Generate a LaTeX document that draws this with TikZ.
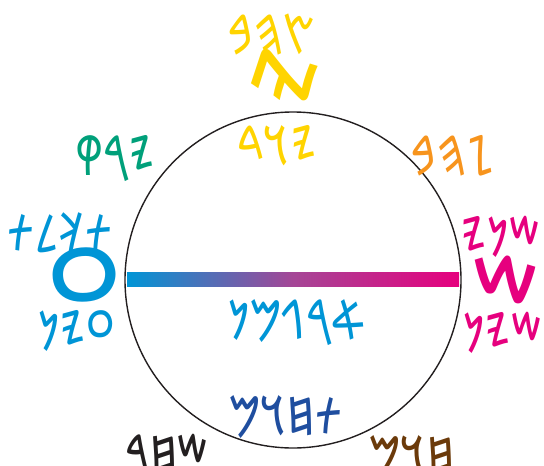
\documentclass[tikz,border=0pt]{standalone}
\usepackage{fontspec}
\TeXXeTstate=1
\IfFontExistsTF{Noto Sans Phoenician}{\def\phxname{Noto Sans Phoenician}}{%
  \IfFontExistsTF{FreeSerif}{\def\phxname{FreeSerif}}{\def\phxname{DejaVu Sans}}}
\newfontfamily\phx[FakeStretch=0.76]{\phxname}
\newfontfamily\phxbig{\phxname}
\definecolor{cyel}{RGB}{255,212,0}
\definecolor{cgrn}{RGB}{0,160,122}
\definecolor{corg}{RGB}{247,148,29}
\definecolor{cblu}{RGB}{0,149,214}
\definecolor{cpnk}{RGB}{230,0,126}
\definecolor{cdbl}{RGB}{31,78,159}
\definecolor{cbrn}{RGB}{107,58,10}
\definecolor{cblk}{RGB}{35,31,32}
\begin{document}
\begin{tikzpicture}[x=1pt,y=-1pt,
  lbl/.style={font=\phx\fontsize{55}{55}\selectfont,inner sep=0pt,anchor=base},
  big/.style={font=\phxbig\fontsize{#1}{#1}\selectfont,inner sep=0pt}]
\useasboundingbox (0,0) rectangle (544,466);
\shade[left color=cblu,right color=cpnk,middle color={rgb,255:red,165;green,70;blue,150}] (127,272) rectangle (459,286);
\node[draw=cblk,line width=1.4pt,circle,minimum size=336pt,inner sep=0pt] (c) at (293,280) {};
\node[lbl,text=cyel] (yt) at (272,54) {\beginR 𐤑𐤄𐤁\endR};
\node[big=100,text=cyel,rotate=60] (yb) at (289,78) {𐤉};
\node[lbl,text=cyel] (yi) at (277,165) {\beginR 𐤉𐤅𐤃\endR};
\node[lbl,text=cgrn] (gr) at (115,175) {\beginR 𐤉𐤓𐤒\endR};
\node[lbl,text=corg] (or) at (453,175) {\beginR 𐤆𐤄𐤁\endR};
\node[lbl,text=cblu] (bt) at (60,252) {\beginR 𐤕𐤊𐤋𐤕\endR};
\node[big=110,text=cblu,anchor=base] (bo) at (85,327) {𐤏};
\node[lbl,text=cblu] (bb) at (77,350) {\beginR 𐤏𐤉𐤍\endR};
\node[lbl,text=cpnk] (pt) at (501,256) {\beginR 𐤔𐤍𐤉\endR};
\node[big=92,text=cpnk,anchor=base] (pw) at (507,323) {𐤔};
\node[lbl,text=cpnk] (pb) at (503,352) {\beginR 𐤔𐤉𐤍\endR};
\node[lbl,text=cblu] (ce) at (297,339) {\beginR 𐤀𐤓𐤂𐤌𐤍\endR};
\node[lbl,text=cdbl] (ib) at (287,435) {\beginR 𐤕𐤇𐤅𐤌\endR};
\node[lbl,text=cblk] (bk) at (167,474) {\beginR 𐤔𐤇𐤓\endR};
\node[lbl,text=cbrn] (br) at (412,475) {\beginR 𐤇𐤅𐤌\endR};
\end{tikzpicture}
\end{document}
